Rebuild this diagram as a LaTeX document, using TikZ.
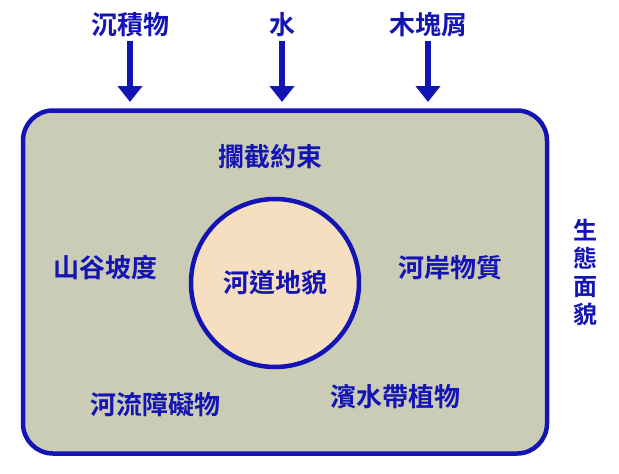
\documentclass[tikz,border=0pt]{standalone}
\usepackage{fontspec}
\usetikzlibrary{arrows.meta}
\newfontfamily\cjk{Noto Sans CJK TC}[BoldFont={Noto Sans CJK TC Bold}]
\begin{document}
\begin{tikzpicture}[x=1pt,y=-1pt,
  lbl/.style={font=\cjk\bfseries\fontsize{26}{30}\selectfont, text=myblue},
  arr/.style={draw=myblue, line width=6pt, -{Triangle[length=16pt,width=24pt]}}]
\definecolor{myblue}{HTML}{1414B4}
\definecolor{bg}{HTML}{CBCCB6}
\definecolor{peach}{HTML}{F6DEC0}
\useasboundingbox (0,0) rectangle (619,474);
\node[draw=myblue, line width=4.5pt, fill=bg, rounded corners=30pt, minimum width=524pt, minimum height=343pt] (box) at (285,282) {};
\node[circle, draw=myblue, line width=4.5pt, fill=peach, minimum size=168pt] (c) at (275,283) {};
\node[lbl] (ch) at (c) {河道地貌};
\node[lbl] (s) at (130,25) {沉積物};
\node[lbl] (w) at (282,25) {水};
\node[lbl] (m) at (428,25) {木塊屑};
\coordinate (se) at (130,102);
\coordinate (we) at (282,102);
\coordinate (me) at (428,102);
\draw[arr] (s.south) -- (se);
\draw[arr] (w.south) -- (we);
\draw[arr] (m.south) -- (me);
\node[lbl] (a) at (270,157) {攔截約束};
\node[lbl] (b) at (105,268) {山谷坡度};
\node[lbl] (d) at (450,268) {河岸物質};
\node[lbl] (e) at (155,405) {河流障礙物};
\node[lbl] (f) at (395,397) {濱水帶植物};
\node[lbl, align=center, font=\cjk\bfseries\fontsize{24}{28}\selectfont] (g) at (585,272) {生\\態\\面\\貌};
\end{tikzpicture}
\end{document}
